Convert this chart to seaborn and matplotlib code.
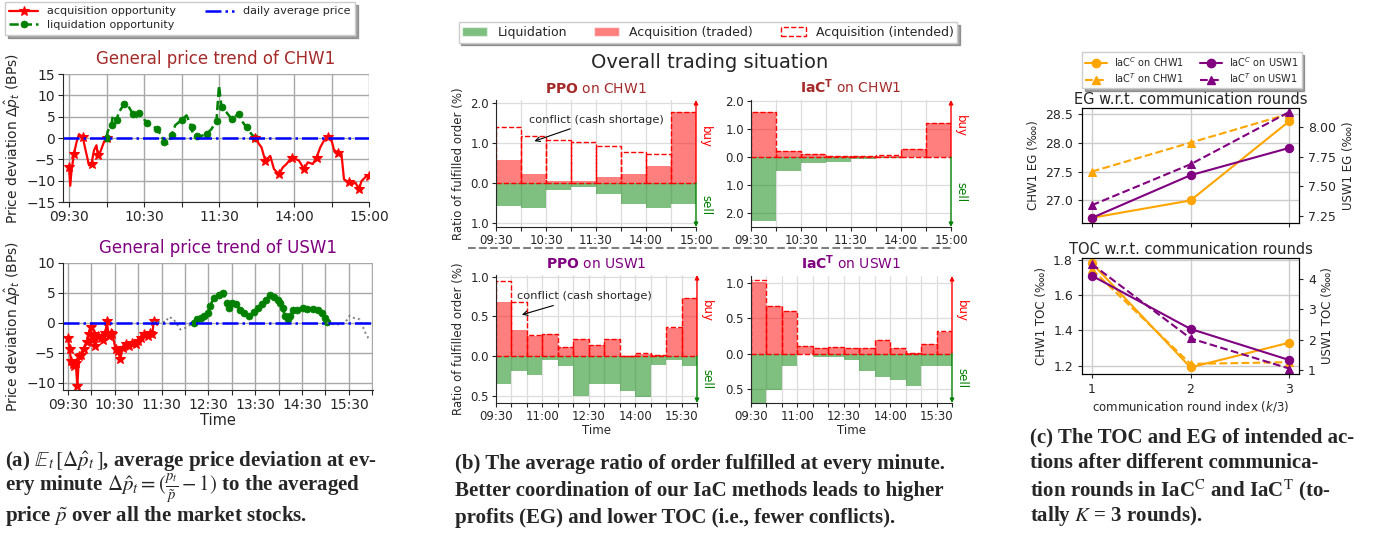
import numpy as np
import matplotlib
matplotlib.use("Agg")
import matplotlib.pyplot as plt
import matplotlib.transforms as mtransforms
from matplotlib.lines import Line2D
from matplotlib.patches import Patch
from matplotlib.ticker import FuncFormatter
import seaborn as sns

# ---------------- (a) price deviation per minute (BPs) ----------------
# CHW1: minutes since 09:30 (lunch break removed)
chw1_t = [0, 1, 2, 4, 6, 8, 11, 13, 16, 18, 20, 22, 23, 25, 28, 30,
          31, 34, 35, 38, 40, 44, 47, 51, 54, 56, 59, 62, 66, 70, 74, 76, 79, 82, 85, 90,
          94, 98, 99, 102, 106, 110, 114, 118, 120, 122, 126, 130, 134, 136, 139, 142, 146, 149,
          150, 154, 157, 161, 164, 168, 171, 174, 178, 181, 184, 188, 191, 195, 198, 201,
          204, 207, 210, 212, 215, 218, 220, 224, 227, 229, 232, 234, 238, 240]
chw1_dev = [-6.8, -11.2, -7.6, -3.7, -1.0, 0.9, 0.2, -2.5, -6.4, -6.0, -2.9, -1.7, -4.1, -3.3, -0.9, 0.0,
            1.6, 3.0, 5.3, 4.2, 6.1, 7.9, 7.7, 5.7, 4.9, 5.9, 5.0, 3.4, 3.0, 2.2, 0.6, -0.9, -1.3, 0.6, 3.0, 4.2,
            5.3, 2.6, 0.9, 0.4, 0.5, 0.9, 2.1, 4.1, 12.3, 7.2, 6.0, 4.5, 5.3, 5.7, 3.7, 2.5, 0.9, 0.0,
            -0.6, -2.2, -5.3, -4.2, -7.3, -8.5, -6.9, -6.1, -4.6, -4.9, -5.3, -7.3, -5.7, -6.1, -4.6, -2.2,
            -0.6, 0.2, -0.5, -2.8, -3.4, -3.8, -9.7, -10.4, -10.8, -10.4, -12.0, -10.1, -8.9, -8.9]
chw1_liq_span = (30, 149)
chw1_ticks = ["09:30", "10:30", "11:30", "14:00", "15:00"]

# USW1: minutes since 09:30
usw1_t = [0, 2, 4, 6, 8, 10, 12, 14, 17, 20, 24, 27, 29, 31, 33, 35, 39, 42, 45, 48,
          50, 52, 55, 57, 61, 64, 67, 70, 74, 78, 82, 87, 90, 93, 97, 102, 105, 108, 110,
          112, 119, 125, 129, 135, 140, 144, 151, 157, 161,
          166, 170, 174, 179, 182, 187, 194, 199, 204, 207, 210, 215, 221, 226, 232, 238, 243, 249, 254, 259,
          264, 269, 272, 275, 278, 282, 285, 289, 294, 301, 307, 314, 320, 325, 329, 332,
          335, 342, 348, 355, 361, 367, 374, 378, 382, 385, 388]
usw1_dev = [-2.5, -4.4, -6.4, -6.9, -7.2, -6.7, -10.6, -5.6, -5.4, -4.4, -3.2, -1.9, -0.7, -2.8, -1.8, -3.9, -2.2, -2.5, -2.9, -1.7,
            0.3, -2.2, -1.7, -1.9, -4.4, -4.7, -6.1, -4.2, -3.6, -3.9, -3.3, -3.6, -3.1, -2.5, -1.9, -2.2, -1.7, -1.9, 0.3,
            0.0, 0.3, 0.1, 1.0, 0.7, -0.3, -1.1, -0.8, -0.3, 0.0,
            0.6, 0.8, 1.2, 1.7, 2.8, 4.2, 4.7, 5.0, 3.3, 2.5, 3.3, 3.1, 2.2, 1.7, 1.2, 1.9, 2.5, 3.1, 3.9, 4.7,
            4.4, 3.9, 3.3, 2.5, 1.1, 0.7, 1.2, 2.2, 2.2, 2.5, 2.3, 2.4, 2.2, 1.7, 0.8, 0.1,
            -0.1, -0.3, -0.2, 0.0, 1.2, 0.8, 0.6, -0.6, -1.9, -2.5, -2.8]
usw1_acq_span = (0, 110)
usw1_liq_span = (161, 332)
usw1_ticks = ["09:30", "10:30", "11:30", "12:30", "13:30", "14:30", "15:30"]

# ---------------- (b) ratio of fulfilled order per 30-min slot (%) ----------------
ppo_chw1_traded = [0.57, 0.23, 0.05, 0.04, 0.15, 0.22, 0.42, 1.77]
ppo_chw1_intended = [1.40, 1.18, 1.06, 1.02, 0.92, 0.77, 0.73, 1.77]
ppo_chw1_liq = [0.58, 0.63, 0.18, 0.10, 0.28, 0.53, 0.63, 0.53]
iac_chw1_traded = [1.61, 0.22, 0.12, 0.05, 0.04, 0.06, 0.28, 1.24]
iac_chw1_intended = [1.61, 0.22, 0.12, 0.05, 0.05, 0.07, 0.28, 1.24]
iac_chw1_liq = [2.29, 0.51, 0.21, 0.18, 0.07, 0.02, 0.0, 0.0]
ppo_usw1_traded = [0.675, 0.33, 0.25, 0.275, 0.12, 0.22, 0.145, 0.22, 0.005, 0.025, 0.01, 0.35, 0.73]
ppo_usw1_intended = [0.945, 0.68, 0.27, 0.275, 0.12, 0.22, 0.145, 0.22, 0.005, 0.04, 0.01, 0.36, 0.73]
ppo_usw1_liq = [0.35, 0.19, 0.24, 0.05, 0.125, 0.50, 0.35, 0.35, 0.44, 0.51, 0.11, 0.05, 0.125]
iac_usw1_traded = [1.02, 0.68, 0.61, 0.11, 0.08, 0.09, 0.08, 0.08, 0.19, 0.08, 0.01, 0.14, 0.31]
iac_usw1_intended = [1.05, 0.68, 0.61, 0.11, 0.08, 0.09, 0.08, 0.08, 0.20, 0.085, 0.01, 0.14, 0.32]
iac_usw1_liq = [0.72, 0.52, 0.18, 0.01, 0.05, 0.05, 0.09, 0.25, 0.33, 0.37, 0.46, 0.18, 0.18]
chw1_bar_ticks = ["09:30", "10:30", "11:30", "14:00", "15:00"]
usw1_bar_ticks = ["09:30", "11:00", "12:30", "14:00", "15:30"]

# ---------------- (c) EG / TOC vs communication rounds ----------------
rounds = [1, 2, 3]
eg_iacc_chw1 = [26.70, 27.00, 28.37]
eg_iact_chw1 = [27.50, 28.00, 28.50]
eg_iacc_usw1 = [7.233, 7.593, 7.823]
eg_iact_usw1 = [7.34, 7.685, 8.126]
toc_iacc_chw1 = [1.78, 1.19, 1.33]
toc_iact_chw1 = [1.745, 1.21, 1.22]
toc_iacc_usw1 = [4.10, 2.35, 1.33]
toc_iact_usw1 = [4.48, 2.04, 1.05]

sns.set_style("ticks")
plt.rcParams["font.family"] = ["DejaVu Sans"]
plt.rcParams["xtick.direction"] = "out"
plt.rcParams["ytick.direction"] = "out"

W, H = 1378, 538
fig = plt.figure(figsize=(W / 100, H / 100), dpi=100)


def box(l, t, r, b):
    # pixel box (left, top, right, bottom) -> figure fraction
    return [l / W, 1 - b / H, (r - l) / W, (b - t) / H]


def seg(t, v, lo, hi):
    t = np.asarray(t)
    v = np.asarray(v)
    m = (t >= lo) & (t <= hi)
    return t[m], v[m]


RED_KW = dict(color="red", lw=1.6, marker="*", ms=7, markeredgecolor="red", markeredgewidth=0.8)
GREEN_KW = dict(color="green", lw=1.8, ls="--", marker="o", ms=5, markeredgecolor="green", markeredgewidth=0.5)
GRAY_KW = dict(color="gray", lw=1.4, ls=":")


def line(ax, x, y, every, **kw):
    sns.lineplot(x=x, y=y, ax=ax, estimator=None, sort=False, markevery=every, **kw)


def time_axis(ax, n_ticks, labels):
    ticks = np.arange(n_ticks) * 30
    ax.set_xticks(ticks)
    ax.set_xticklabels([labels[i // 2] if i % 2 == 0 else "" for i in range(n_ticks)])


# ---- (a) top: CHW1 ----
ax = fig.add_axes(box(63, 74, 369, 202))
x, y = seg(chw1_t, chw1_dev, 0, chw1_liq_span[0])
line(ax, x, y, 3, **RED_KW)
x, y = seg(chw1_t, chw1_dev, *chw1_liq_span)
line(ax, x, y, 2, **GREEN_KW)
x, y = seg(chw1_t, chw1_dev, chw1_liq_span[1], 240)
line(ax, x, y, 3, **RED_KW)
ax.axhline(0, color="blue", ls="-.", lw=1.8)
ax.set_xlim(-4.8, 240)
ax.set_ylim(-15, 15)
ax.set_yticks([-15, -10, -5, 0, 5, 10, 15])
time_axis(ax, 9, chw1_ticks)
ax.grid(True, color="#a8a8a8", lw=1.0)
ax.set_axisbelow(True)
sns.despine(ax=ax)
ax.tick_params(labelsize=10, pad=2)
ax.set_ylabel(r"Price deviation $\Delta\hat{p}_t$ (BPs)", fontsize=10, labelpad=2)
ax.set_title("General price trend of CHW1", color="brown", fontsize=12, pad=7)

# ---- (a) bottom: USW1 ----
ax = fig.add_axes(box(63, 263, 373, 390))
x, y = seg(usw1_t, usw1_dev, *usw1_acq_span)
line(ax, x, y, 1, **RED_KW)
x, y = seg(usw1_t, usw1_dev, usw1_acq_span[1], usw1_liq_span[0])
line(ax, x, y, 1, **GRAY_KW)
x, y = seg(usw1_t, usw1_dev, *usw1_liq_span)
line(ax, x, y, 1, **GREEN_KW)
x, y = seg(usw1_t, usw1_dev, usw1_liq_span[1], 390)
line(ax, x, y, 1, **GRAY_KW)
ax.axhline(0, color="blue", ls="-.", lw=1.8)
ax.set_xlim(-6.4, 391)
ax.set_ylim(-11.2, 10)
ax.set_yticks([-10, -5, 0, 5, 10])
time_axis(ax, 14, usw1_ticks)
ax.grid(True, color="#a8a8a8", lw=1.0)
ax.set_axisbelow(True)
sns.despine(ax=ax)
ax.tick_params(labelsize=10, pad=2)
ax.set_ylabel(r"Price deviation $\Delta\hat{p}_t$ (BPs)", fontsize=10, labelpad=2)
ax.set_xlabel("Time", fontsize=10.5, labelpad=1)
ax.set_title("General price trend of USW1", color="purple", fontsize=12, pad=7)

leg_a = [Line2D([], [], **RED_KW), Line2D([], [], **GREEN_KW),
         Line2D([], [], color="blue", ls="-.", lw=1.8)]
fig.legend(leg_a,
           ["acquisition opportunity", "liquidation opportunity", "daily average price"],
           ncol=2, loc="upper left", bbox_to_anchor=(5 / W, 1 - 2 / H), borderaxespad=0,
           fontsize=8, shadow=True, fancybox=False, handlelength=2.6, columnspacing=2.6,
           labelspacing=0.35, borderpad=0.4, edgecolor="#cccccc")


# ---- (b) ----
def order_panel(ax, traded, intended, liq, labels, ylim, yticks, title, color, ylabel):
    n = len(traded)
    x = np.arange(n)
    ax.bar(x, -np.asarray(liq), width=1, align="edge", color="green", alpha=0.5, lw=0)
    ax.bar(x, traded, width=1, align="edge", color="red", alpha=0.5, lw=0)
    ax.bar(x, intended, width=1, align="edge", fill=False, edgecolor="red", ls="--", lw=1.0)
    ax.set_xlim(0, n)
    ax.set_ylim(*ylim)
    ax.set_yticks(yticks)
    ax.yaxis.set_major_formatter(FuncFormatter(lambda v, p: f"{abs(v):.1f}"))
    step = 2 if n == 8 else 3
    ax.set_xticks(np.arange(n + 1))
    ax.set_xticklabels([labels[i // step] if i % step == 0 else "" for i in range(n + 1)])
    ax.grid(True, color="#dddddd", lw=0.9)
    ax.set_axisbelow(True)
    ax.spines["top"].set_visible(False)
    ax.spines["right"].set_visible(False)
    ax.tick_params(labelsize=8.5, length=3, pad=2)
    ax.set_title(title, color=color, fontsize=10, pad=5)
    if ylabel:
        ax.set_ylabel("Ratio of fulfilled order (%)", fontsize=8.5)
    tr = mtransforms.blended_transform_factory(ax.transAxes, ax.transData)
    lo, hi = ylim
    ax.annotate("", xy=(1, hi), xytext=(1, 0), xycoords=tr, textcoords=tr, annotation_clip=False,
                arrowprops=dict(arrowstyle="-|>", color="red", lw=1.0, mutation_scale=6, shrinkA=0, shrinkB=0))
    ax.annotate("", xy=(1, lo), xytext=(1, 0), xycoords=tr, textcoords=tr, annotation_clip=False,
                arrowprops=dict(arrowstyle="-|>", color="green", lw=1.0, mutation_scale=6, shrinkA=0, shrinkB=0))
    ax.text(1.015, hi * 0.55, "buy", transform=tr, rotation=270, color="red",
            va="center", ha="left", fontsize=8.5)
    ax.text(1.015, lo * 0.5, "sell", transform=tr, rotation=270, color="green",
            va="center", ha="left", fontsize=8.5)


ax = fig.add_axes(box(496, 100, 696, 227))
order_panel(ax, ppo_chw1_traded, ppo_chw1_intended, ppo_chw1_liq, chw1_bar_ticks,
            (-1.1, 2.07), [-1, 0, 1, 2], r"$\mathbf{PPO}$ on CHW1", "brown", True)
ax.annotate("conflict (cash shortage)", xy=(1.43, 1.02), xytext=(4.03, 1.58), ha="center", va="center",
            fontsize=8.2, arrowprops=dict(arrowstyle="->", color="black", lw=0.8))

ax = fig.add_axes(box(751, 100, 951, 227))
order_panel(ax, iac_chw1_traded, iac_chw1_intended, iac_chw1_liq, chw1_bar_ticks,
            (-2.5, 2.05), [-2, -1, 0, 1, 2], r"$\mathbf{IaC^T}$ on CHW1", "brown", False)

ax = fig.add_axes(box(496, 275, 697, 403))
order_panel(ax, ppo_usw1_traded, ppo_usw1_intended, ppo_usw1_liq, usw1_bar_ticks,
            (-0.59, 1.02), [-0.5, 0, 0.5, 1.0], r"$\mathbf{PPO}$ on USW1", "purple", True)
ax.annotate("conflict (cash shortage)", xy=(1.5, 0.51), xytext=(5.7, 0.75), ha="center", va="center",
            fontsize=8.2, arrowprops=dict(arrowstyle="->", color="black", lw=0.8))
ax.set_xlabel("Time", fontsize=8.5, labelpad=1)

ax = fig.add_axes(box(751, 276, 952, 403))
order_panel(ax, iac_usw1_traded, iac_usw1_intended, iac_usw1_liq, usw1_bar_ticks,
            (-0.70, 1.10), [-0.5, 0, 0.5, 1.0], r"$\mathbf{IaC^T}$ on USW1", "purple", False)
ax.set_xlabel("Time", fontsize=8.5, labelpad=1)

fig.text(710 / W, 1 - 63 / H, "Overall trading situation", ha="center", va="center", fontsize=14)
fig.add_artist(Line2D([468 / W, 952 / W], [1 - 248 / H, 1 - 248 / H], color="gray", ls="--", lw=1.5))
fig.legend([Patch(facecolor="green", alpha=0.5), Patch(facecolor="red", alpha=0.5),
            Patch(fill=False, edgecolor="red", ls="--")],
           ["Liquidation", "Acquisition (traded)", "Acquisition (intended)"],
           ncol=3, loc="upper center", bbox_to_anchor=(708 / W, 1 - 22 / H), borderaxespad=0,
           fontsize=9, shadow=True, fancybox=False, columnspacing=2.2, borderpad=0.3, edgecolor="#cccccc")

# ---- (c) ----
OR_C = dict(color="orange", lw=1.5, marker="o", ms=6, markeredgecolor="orange")
OR_T = dict(color="orange", lw=1.5, ls="--", marker="^", ms=6, markeredgecolor="orange")
PU_C = dict(color="purple", lw=1.5, marker="o", ms=6, markeredgecolor="purple")
PU_T = dict(color="purple", lw=1.5, ls="--", marker="^", ms=6, markeredgecolor="purple")

ax_eg = fig.add_axes(box(1082, 108, 1299, 223))
ax_eg2 = ax_eg.twinx()
sns.lineplot(x=rounds, y=eg_iacc_chw1, ax=ax_eg, **OR_C)
sns.lineplot(x=rounds, y=eg_iact_chw1, ax=ax_eg, **OR_T)
sns.lineplot(x=rounds, y=eg_iacc_usw1, ax=ax_eg2, **PU_C)
sns.lineplot(x=rounds, y=eg_iact_usw1, ax=ax_eg2, **PU_T)
ax_eg.set_xlim(0.9, 3.1)
ax_eg.set_ylim(26.61, 28.6)
ax_eg2.set_ylim(7.19, 8.16)
ax_eg.set_xticks(rounds)
ax_eg.set_xticklabels([])
ax_eg.set_yticks([27.0, 27.5, 28.0, 28.5])
ax_eg.yaxis.set_major_formatter(FuncFormatter(lambda v, p: f"{v:.1f}"))
ax_eg2.set_yticks([7.25, 7.5, 7.75, 8.0])
ax_eg2.yaxis.set_major_formatter(FuncFormatter(lambda v, p: f"{v:.2f}"))
ax_eg.grid(True, color="#cccccc", lw=1.0)
ax_eg.set_ylabel("CHW1 EG (‱)", fontsize=8.5)
ax_eg2.set_ylabel("USW1 EG (‱)", fontsize=8.5)
ax_eg.set_title("EG w.r.t. communication rounds", fontsize=10.5, pad=3)

ax_toc = fig.add_axes(box(1082, 258, 1299, 374))
ax_toc2 = ax_toc.twinx()
sns.lineplot(x=rounds, y=toc_iacc_chw1, ax=ax_toc, **OR_C)
sns.lineplot(x=rounds, y=toc_iact_chw1, ax=ax_toc, **OR_T)
sns.lineplot(x=rounds, y=toc_iacc_usw1, ax=ax_toc2, **PU_C)
sns.lineplot(x=rounds, y=toc_iact_usw1, ax=ax_toc2, **PU_T)
ax_toc.set_xlim(0.9, 3.1)
ax_toc.set_ylim(1.153, 1.809)
ax_toc2.set_ylim(0.87, 4.68)
ax_toc.set_xticks(rounds)
ax_toc.set_yticks([1.2, 1.4, 1.6, 1.8])
ax_toc2.set_yticks([1, 2, 3, 4])
ax_toc.grid(True, color="#cccccc", lw=1.0)
ax_toc.set_ylabel("CHW1 TOC (‱)", fontsize=8.5)
ax_toc2.set_ylabel("USW1 TOC (‱)", fontsize=8.5)
ax_toc.set_xlabel("communication round index ($k$/3)", fontsize=8.5, labelpad=2)
ax_toc.set_title("TOC w.r.t. communication rounds", fontsize=10.5, pad=3)

for a in (ax_eg, ax_eg2, ax_toc, ax_toc2):
    a.tick_params(labelsize=9, length=3)
    for s in a.spines.values():
        s.set_visible(True)
        s.set_color("black")

fig.legend([Line2D([], [], **OR_C), Line2D([], [], **OR_T), Line2D([], [], **PU_C), Line2D([], [], **PU_T)],
           [r"IaC$^C$ on CHW1", r"IaC$^T$ on CHW1", r"IaC$^C$ on USW1", r"IaC$^T$ on USW1"],
           ncol=2, loc="upper center", bbox_to_anchor=(1192 / W, 1 - 52 / H), borderaxespad=0,
           fontsize=7, shadow=True, fancybox=False, columnspacing=1.6, borderpad=0.3,
           labelspacing=0.25, handlelength=2.2, edgecolor="#cccccc")

# ---- captions ----
CAP = dict(fontsize=15, fontweight="bold", family="Liberation Serif", math_fontfamily="stix",
           va="center", ha="left")
cap_a = [r"(a) $\mathbb{E}_t\,[\Delta\hat{p}_t\,]$, average price deviation at ev-",
         r"ery minute $\Delta\hat{p}_t = (\frac{p_t}{\tilde{p}} - 1)$ to the averaged",
         r"price $\tilde{p}$ over all the market stocks."]
cap_b = ["(b) The average ratio of order fulfilled at every minute.",
         "Better coordination of our IaC methods leads to higher",
         "profits (EG) and lower TOC (i.e., fewer conflicts)."]
cap_c = ["(c) The TOC and EG of intended ac-",
         "tions after different communica-",
         r"tion rounds in IaC$^{\mathrm{C}}$ and IaC$^{\mathrm{T}}$ (to-",
         r"tally $K$ = 3 rounds)."]
for i, s in enumerate(cap_a):
    fig.text(5 / W, 1 - (462 + 27 * i) / H, s, **CAP)
for i, s in enumerate(cap_b):
    fig.text(455 / W, 1 - (464 + 27 * i) / H, s, **CAP)
for i, s in enumerate(cap_c):
    fig.text(1030 / W, 1 - (437 + 26.5 * i) / H, s, **CAP)

fig.savefig("out.png", dpi=100)
